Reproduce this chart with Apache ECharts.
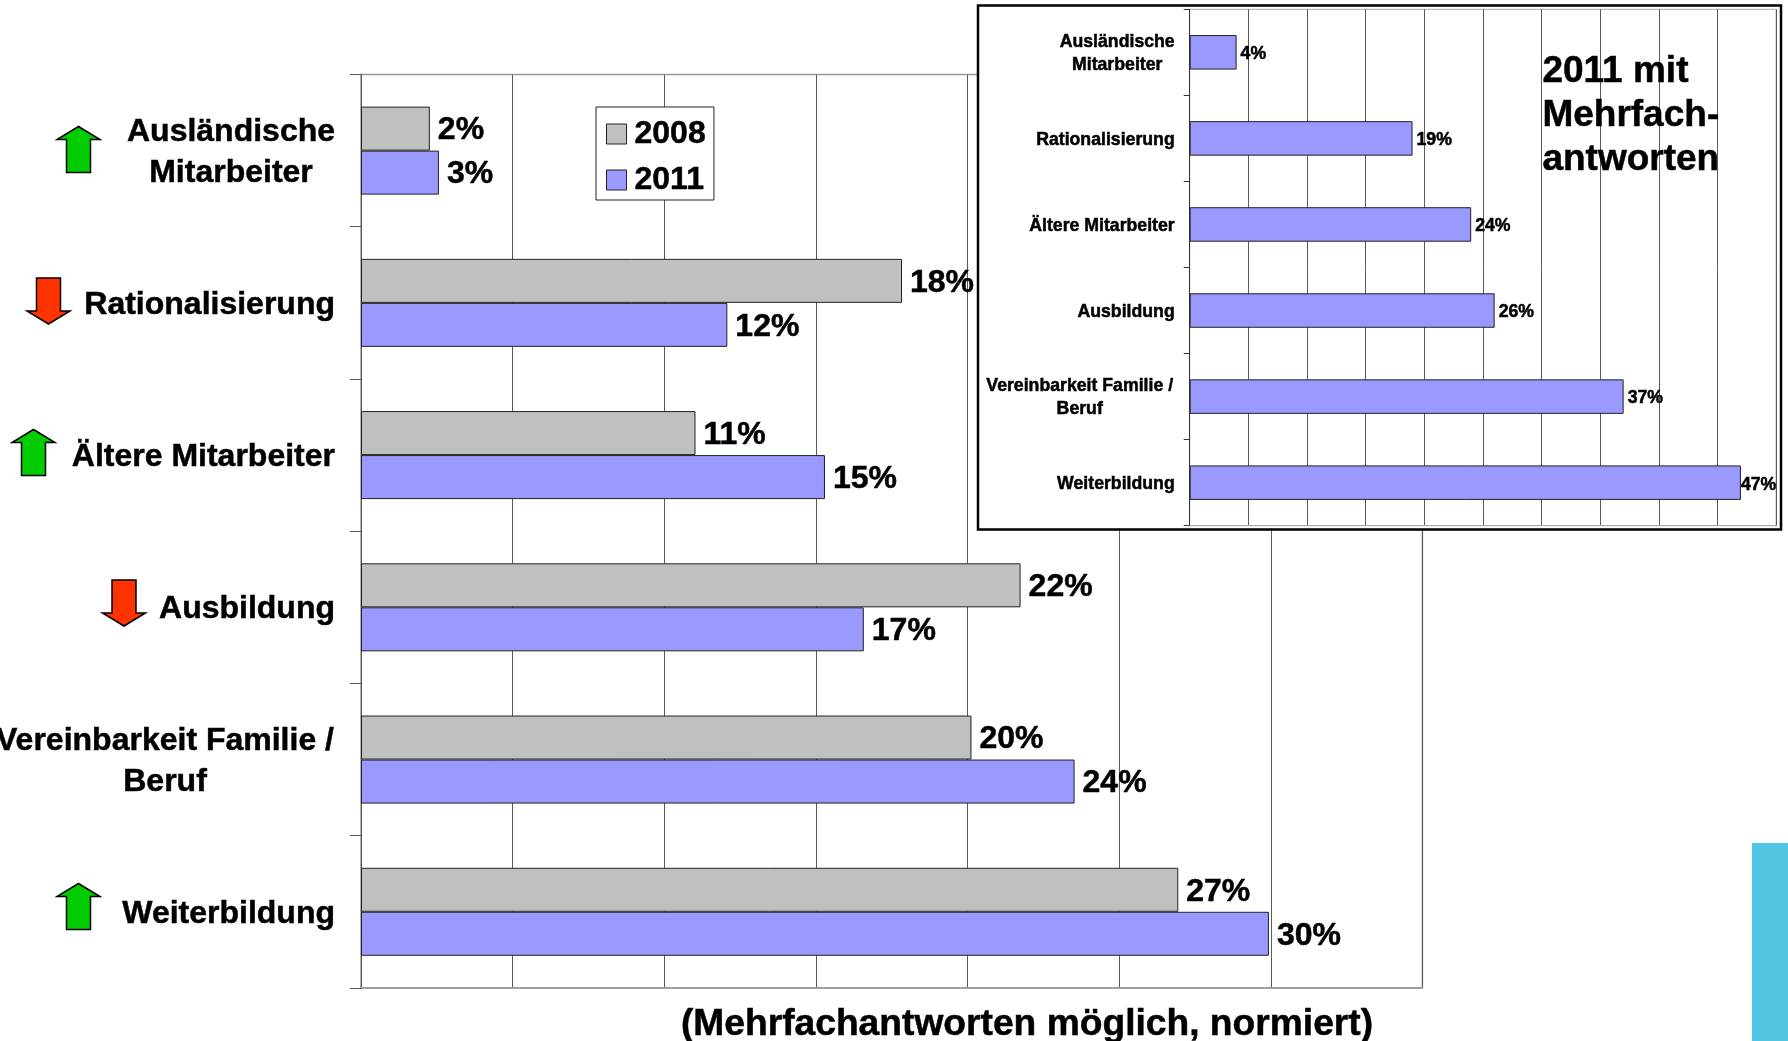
<!DOCTYPE html>
<html>
<head>
<meta charset="utf-8">
<style>html,body{margin:0;padding:0;background:#fff;overflow:hidden}#c{width:1788px;height:1041px}</style>
<script src="https://cdn.jsdelivr.net/npm/echarts@6/dist/echarts.min.js"></script>
</head>
<body>
<div id="c"></div>
<script>
const categories = ['Ausländische\nMitarbeiter', 'Rationalisierung', 'Ältere Mitarbeiter', 'Ausbildung', 'Vereinbarkeit Familie /\nBeruf', 'Weiterbildung'];
const values2008 = [2.27, 17.84, 11.03, 21.75, 20.13, 26.95];
const values2011 = [2.57, 12.08, 15.3, 16.58, 23.53, 29.94];
const valuesInset = [4, 19, 24, 26, 37, 47];
const seriesNames = ['2008', '2011'];
const axisTitle = '(Mehrfachantworten möglich, normiert)';
const insetTitle = '2011 mit\nMehrfach-\nantworten';

const FONT = '"Liberation Sans", Arial, sans-serif';
const GRAY = '#C0C0C0', BLUE = '#9999FF', GREEN = '#00CC00', RED = '#FF3300';
const heavy = { textBorderColor: '#000', textBorderWidth: 0.5 };

function catLabel(size, lineHeight, widths, shift) {
  const rich = {};
  Object.keys(widths).forEach(k => {
    rich[k] = Object.assign({ width: widths[k], align: 'center', fontFamily: FONT, fontWeight: 'bold', fontSize: size, lineHeight, color: '#000' }, heavy);
  });
  return Object.assign({
    interval: 0, hideOverlap: false,
    fontFamily: FONT, fontWeight: 'bold', fontSize: size, color: '#000', lineHeight,
    padding: [shift, 0, 0, 0],
    rich,
    formatter: v => {
      const lines = v.split('\n');
      if (lines.length === 1) return v;
      const key = lines[0].startsWith('Aus') ? 'a' : 'v';
      return lines.map(l => '{' + key + '|' + l + '}').join('\n');
    }
  }, heavy);
}

function upArrow(cx, top) {
  return { type: 'polygon', zlevel: 0, z: 10, shape: { points: [[cx, top], [cx + 21.5, top + 13], [cx + 12, top + 13], [cx + 12, top + 46], [cx - 12, top + 46], [cx - 12, top + 13], [cx - 21.5, top + 13]] },
    style: { fill: GREEN, stroke: '#000', lineWidth: 1.5 } };
}
function downArrow(cx, top) {
  return { type: 'polygon', zlevel: 0, z: 10, shape: { points: [[cx - 12, top], [cx + 12, top], [cx + 12, top + 33], [cx + 21.5, top + 33], [cx, top + 46], [cx - 21.5, top + 33], [cx - 12, top + 33]] },
    style: { fill: RED, stroke: '#000', lineWidth: 1.5 } };
}

const chart = echarts.init(document.getElementById('c'), null, { renderer: 'canvas' });
const pct = p => Math.round(p.value) + '%';

chart.setOption({
  animation: false,
  backgroundColor: '#fff',
  title: {
    text: axisTitle, left: 1027, top: 1004.5, textAlign: 'center',
    padding: 0,
    textStyle: Object.assign({ fontFamily: FONT, fontWeight: 'bold', fontSize: 37.2, color: '#000', lineHeight: 40 }, heavy)
  },
  legend: {
    orient: 'vertical', left: 596, top: 107, icon: 'rect',
    padding: [9, 8, 2, 10], itemGap: 10, itemWidth: 20, itemHeight: 20,
    backgroundColor: '#fff', borderColor: '#222', borderWidth: 1,
    itemStyle: { borderColor: '#222', borderWidth: 1 },
    textStyle: Object.assign({ fontFamily: FONT, fontWeight: 'bold', fontSize: 32, color: '#000', padding: [0, 0, 0, 3], lineHeight: 36 }, heavy),
    data: seriesNames
  },
  grid: [
    { left: 361, top: 74.5, width: 1061.4, height: 913.4, show: true, borderColor: '#999', borderWidth: 1.5, outerBoundsMode: 'none', containLabel: false },
    { left: 1189.7, top: 9.3, width: 586.4, height: 516.4, show: true, borderColor: '#aaa', borderWidth: 1, outerBoundsMode: 'none', containLabel: false, zlevel: 2 }
  ],
  xAxis: [
    { type: 'value', gridIndex: 0, min: 0, max: 35, interval: 5,
      axisLabel: { show: false }, axisTick: { show: false }, axisLine: { show: true, lineStyle: { color: '#999', width: 1.5 } },
      splitLine: { show: true, lineStyle: { color: '#5a5a5a', width: 1 } } },
    { type: 'value', gridIndex: 1, min: 0, max: 50, interval: 5, zlevel: 2,
      axisLabel: { show: false }, axisTick: { show: false }, axisLine: { show: true, lineStyle: { color: '#aaa', width: 1 } },
      splitLine: { show: true, lineStyle: { color: '#5a5a5a', width: 1 } } }
  ],
  yAxis: [
    { type: 'category', gridIndex: 0, inverse: true, data: categories,
      axisLine: { show: true, lineStyle: { color: '#555', width: 1 } },
      axisTick: { show: true, length: 11, lineStyle: { color: '#555', width: 1 } },
      axisLabel: Object.assign(catLabel(32, 41, { a: 208, v: 340 }, 4), { margin: 26 }),
      splitLine: { show: false } },
    { type: 'category', gridIndex: 1, inverse: true, data: categories, zlevel: 2,
      axisLine: { show: true, lineStyle: { color: '#333', width: 1 } },
      axisTick: { show: true, length: 6, lineStyle: { color: '#333', width: 1 } },
      axisLabel: Object.assign(catLabel(17.7, 23, { a: 115, v: 190 }, 3), { margin: 15 }),
      splitLine: { show: false } }
  ],
  series: [
    { name: seriesNames[0], type: 'bar', xAxisIndex: 0, yAxisIndex: 0, data: values2008,
      barWidth: 44, barGap: 0,
      itemStyle: { color: GRAY, borderColor: '#222', borderWidth: 1 },
      label: Object.assign({ show: true, position: 'right', distance: 8, offset: [0, 2], formatter: pct, fontFamily: FONT, fontWeight: 'bold', fontSize: 32, color: '#000' }, heavy) },
    { name: seriesNames[1], type: 'bar', xAxisIndex: 0, yAxisIndex: 0, data: values2011,
      barWidth: 44, barGap: 0,
      itemStyle: { color: BLUE, borderColor: '#222', borderWidth: 1 },
      label: Object.assign({ show: true, position: 'right', distance: 8, offset: [0, 2], formatter: pct, fontFamily: FONT, fontWeight: 'bold', fontSize: 32, color: '#000' }, heavy) },
    { name: 'Inset 2011', type: 'bar', xAxisIndex: 1, yAxisIndex: 1, zlevel: 2,
      data: valuesInset.map(v => v === 47 ? { value: v, label: { distance: 0 } } : v),
      barWidth: 34.5,
      itemStyle: { color: BLUE, borderColor: '#222', borderWidth: 1 },
      label: Object.assign({ show: true, position: 'right', distance: 4, offset: [0, 2], formatter: pct, fontFamily: FONT, fontWeight: 'bold', fontSize: 17.7, color: '#000' }, heavy) }
  ],
  graphic: [
    upArrow(78.5, 126.5),
    downArrow(48.5, 278),
    upArrow(33.5, 429.5),
    downArrow(124, 580),
    upArrow(78.5, 883.5),
    { type: 'rect', zlevel: 0, z: 10, shape: { x: 1752, y: 843, width: 36, height: 198 }, style: { fill: '#50C6E4' } },
    { type: 'rect', zlevel: 1, z: 1, shape: { x: 978, y: 5.5, width: 803, height: 524 }, style: { fill: '#fff', stroke: '#000', lineWidth: 2.5 } },
    { type: 'text', zlevel: 3, z: 10, x: 1542.4, y: 50, style: { text: insetTitle, fontFamily: FONT, fontWeight: 'bold', fontSize: 37, lineHeight: 44, fill: '#000', stroke: '#000', lineWidth: 0.5 } }
  ]
});
</script>
</body>
</html>
